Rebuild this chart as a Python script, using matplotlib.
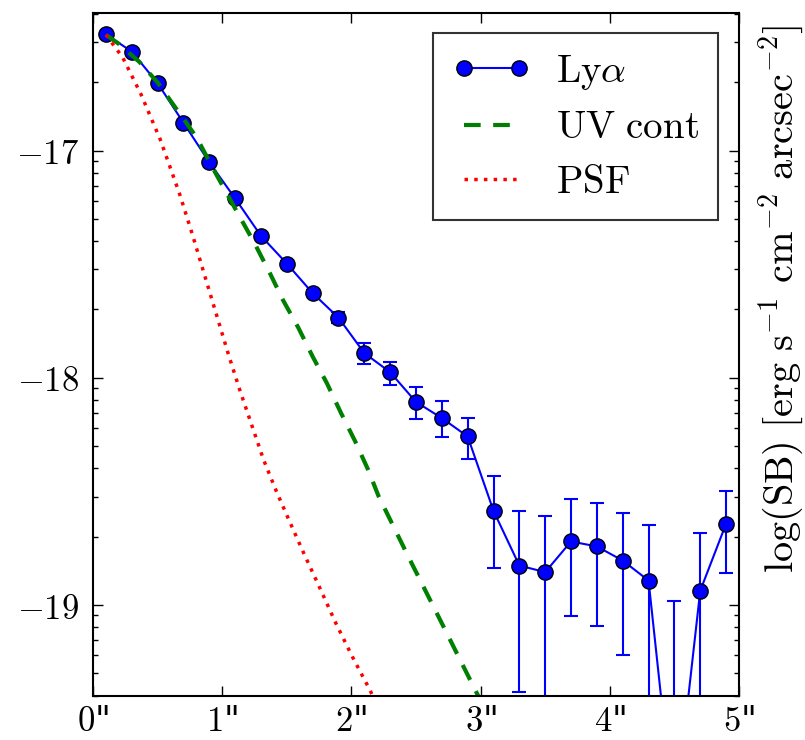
import numpy as np
import matplotlib
matplotlib.use("Agg")
import matplotlib.pyplot as plt
from matplotlib.ticker import FixedLocator, FuncFormatter

plt.rcParams['mathtext.fontset'] = 'cm'
plt.rcParams['font.family'] = ['DejaVu Serif']

# Ly-alpha surface brightness profile (log10 SB) with error-bar bounds
lya_r = [0.1, 0.3, 0.5, 0.7, 0.9, 1.1, 1.3, 1.5, 1.7, 1.9, 2.1, 2.3, 2.5,
         2.7, 2.9, 3.1, 3.3, 3.5, 3.7, 3.9, 4.1, 4.3, 4.5, 4.7, 4.9]
lya_sb = [-16.488, -16.564, -16.703, -16.877, -17.051, -17.21, -17.375, -17.497,
          -17.627, -17.735, -17.891, -17.975, -18.106, -18.177, -18.258, -18.585,
          -18.826, -18.855, -18.72, -18.742, -18.804, -18.892, -19.95, -18.937, -18.642]
lya_hi = [-16.484, -16.560, -16.698, -16.872, -17.045, -17.203, -17.366, -17.486,
          -17.614, -17.71, -17.847, -17.928, -18.041, -18.104, -18.175, -18.43,
          -18.588, -18.61, -18.534, -18.551, -18.595, -18.647, -18.984, -18.684, -18.50]
# -25 marks lower bounds that fall off the plot (SB consistent with zero)
lya_lo = [-16.492, -16.568, -16.708, -16.882, -17.057, -17.217, -17.384, -17.508,
          -17.64, -17.76, -17.94, -18.03, -18.18, -18.261, -18.358, -18.835,
          -19.383, -25, -19.047, -19.09, -19.219, -25, -25, -25, -18.857]

# UV continuum profile
uv_r = [0.1, 0.2, 0.36, 0.5, 0.65, 0.8, 0.95, 1.12, 1.25, 1.37, 1.47, 1.59, 1.70,
        1.81, 1.92, 2.03, 2.13, 2.21, 2.44, 2.70, 2.97, 3.0]
uv_sb = [-16.49, -16.53, -16.61, -16.70, -16.82, -16.94, -17.10, -17.275, -17.407,
         -17.54, -17.657, -17.78, -17.906, -18.023, -18.155, -18.28, -18.405, -18.52,
         -18.786, -19.08, -19.387, -19.42]

# PSF profile
psf_r = [0.1, 0.23, 0.37, 0.52, 0.67, 0.77, 0.87, 0.96, 1.05, 1.14, 1.23, 1.32,
         1.42, 1.52, 1.63, 1.76, 1.88, 2.01, 2.14, 2.2]
psf_sb = [-16.49, -16.59, -16.75, -16.95, -17.19, -17.37, -17.56, -17.73, -17.90,
          -18.06, -18.21, -18.36, -18.50, -18.63, -18.77, -18.93, -19.08, -19.23,
          -19.37, -19.44]

x_ticks = [0, 1, 2, 3, 4, 5]
y_ticks = [-19, -18, -17]

lya_sb = np.array(lya_sb)
yerr = [lya_sb - np.array(lya_lo), np.array(lya_hi) - lya_sb]

fig = plt.figure(figsize=(8.05, 7.4), dpi=100)
ax = fig.add_axes([0.1155, 0.0595, 0.8025, 0.923])

ax.errorbar(lya_r, lya_sb, yerr=yerr, fmt='none', ecolor='blue', elinewidth=1.5,
            capsize=5, capthick=1.5)
ax.plot(lya_r, lya_sb, 'o-', color='blue', mec='black', mew=1, ms=11, lw=1.5,
        label=r'$\mathrm{Ly}\alpha$')
ax.plot(uv_r, uv_sb, color='green', lw=3, dashes=(4, 3), label=r'$\mathrm{UV\ cont}$')
ax.plot(psf_r, psf_sb, color='red', lw=2.5, dashes=(1, 1.8), label=r'$\mathrm{PSF}$')

ax.set_xlim(0, 5)
ax.set_ylim(-19.40, -16.394)

ax.set_xticks(x_ticks)
ax.set_xticklabels(['$%d$"' % t for t in x_ticks])
ax.set_yticks(y_ticks)
ax.yaxis.set_major_formatter(FuncFormatter(lambda v, p: r'$%d$' % round(v)))
minor = [n + np.log10(k) for n in range(-21, -15) for k in range(2, 10)]
ax.yaxis.set_minor_locator(FixedLocator(minor))

ax.tick_params(which='both', direction='in', top=True, right=True, labelsize=25)
ax.tick_params(which='major', length=7, width=1)
ax.tick_params(which='minor', length=3.5, width=1)
ax.tick_params(axis='y', pad=10)
ax.tick_params(axis='x', pad=6)
for s in ax.spines.values():
    s.set_linewidth(1.5)

ax.set_ylabel(r'$\log(\mathrm{SB})\ [\mathrm{erg\ s^{-1}\ cm^{-2}\ arcsec^{-2}}]$',
              fontsize=29)
ax.yaxis.set_label_position('right')
ax.yaxis.set_label_coords(1.027, 0.581)

leg = ax.legend(loc='upper right', bbox_to_anchor=(0.9675, 0.970), borderaxespad=0,
                fontsize=28, numpoints=2, fancybox=False, handlelength=2.0,
                handletextpad=0.65, labelspacing=0.45, borderpad=0.5)
leg.get_frame().set_edgecolor('black')
leg.get_frame().set_linewidth(1.5)

fig.savefig('out.png', dpi=100)
